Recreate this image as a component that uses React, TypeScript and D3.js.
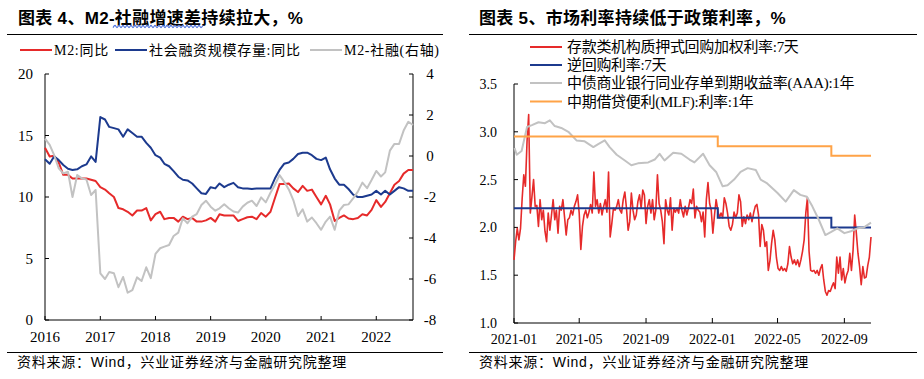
import React from "react";
import * as d3 from "d3";

// ---------- Left chart: monthly, 2016-01 .. 2022-09 ----------
const leftStartMonth = "2016-01-01";
const m2Yoy = [
  14.0, 13.3, 13.35, 12.8, 11.8, 11.8, 11.5, 11.5, 11.5, 11.5, 11.4, 11.3,
  10.8, 10.6, 10.3, 10.0, 9.1, 9.0, 8.8, 8.5, 8.9, 8.9, 9.1, 8.1,
  8.6, 8.8, 8.2, 8.3, 8.3, 8.0, 8.4, 8.2, 8.3, 8.0, 8.0, 8.1,
  8.3, 8.0, 8.6, 8.5, 8.5, 8.5, 8.05, 8.2, 8.35, 8.4, 8.2, 8.7,
  8.4, 8.8, 9.9, 11.05, 11.05, 11.1, 10.7, 10.4, 10.9, 10.5, 10.6, 10.0,
  9.4, 10.1, 9.4, 8.05, 8.3, 8.5, 8.25, 8.2, 8.3, 8.6, 8.5, 8.95,
  9.75, 9.2, 9.6, 10.3, 11.0, 11.3, 11.9, 12.2, 12.2,
];
const tsfYoy = [
  13.07, 12.7, 13.3, 13.0, 12.6, 12.3, 12.2, 12.25, 12.5, 12.65, 13.3, 12.85,
  16.5, 16.3, 15.7, 15.6, 15.5, 14.9, 15.5, 15.2, 14.9, 14.9, 14.4, 14.0,
  13.4, 13.2, 12.7, 12.5, 12.1, 11.65, 11.4, 11.35, 11.1, 10.7, 10.3, 10.25,
  10.8, 10.7, 11.1, 10.8, 11.0, 11.15, 10.8, 10.7, 10.7, 10.65, 10.7, 10.7,
  10.7, 10.7, 11.5, 12.2, 12.7, 12.8, 13.1, 13.5, 13.6, 13.6, 13.4, 13.1,
  13.0, 13.2, 12.25, 11.5, 11.0, 11.0, 10.65, 10.2, 10.0, 10.0, 10.1, 10.2,
  10.5, 10.2, 10.5, 10.2, 10.5, 10.8, 10.7, 10.5, 10.5,
];
const m2MinusTsf = [
  0.85, 0.54, 0.05, -0.6, -0.85, -0.77, -2.0, -0.93, -1.09, -1.15, -1.9, -1.66,
  -5.72, -6.0, -5.66, -5.72, -6.4, -5.9, -6.67, -6.54, -5.92, -6.1, -5.43, -5.96,
  -4.78, -4.5, -4.42, -4.34, -3.9, -3.74, -3.04, -3.28, -2.96, -2.83, -2.39, -2.18,
  -2.47, -2.67, -2.55, -2.35, -2.55, -2.71, -2.76, -2.47, -2.28, -2.18, -2.44, -2.02,
  -2.26, -1.79, -1.41, -0.93, -1.25, -1.63, -2.15, -2.93, -2.6, -3.2, -3.0, -3.28,
  -3.6, -3.2, -2.96, -3.6, -2.67, -2.39, -2.36, -2.07, -1.74, -1.3, -1.57, -1.17,
  -0.73, -1.0, -0.8, 0.26, 0.59, 0.59, 1.24, 1.67, 1.51,
];
const leftYears = ["2016", "2017", "2018", "2019", "2020", "2021", "2022"];
const leftYTicks = [0, 5, 10, 15, 20];
const leftY2Ticks = [-8, -6, -4, -2, 0, 2, 4];

// ---------- Right chart: daily rates, sampled every 3 days ----------
const dr007Start = "2021-01-01";
const dr007StepDays = 3;
const dr007 = [
  1.66, 1.85, 1.99, 1.87, 1.99, 2.3, 2.55, 2.43, 2.9, 3.18,
  2.15, 2.32, 2.5, 2.22, 2.23, 2.01, 2.29, 2.08, 2.18, 1.96,
  1.85, 2.15, 1.97, 2.13, 2.29, 2.08, 2.18, 1.94, 2.22, 2.18,
  2.29, 2.11, 1.92, 2.08, 2.1, 2.18, 2.13, 2.22, 2.27, 2.34,
  2.15, 1.77, 2.01, 2.13, 2.18, 2.1, 2.16, 2.24, 2.15, 2.58,
  2.22, 2.29, 2.15, 2.25, 2.13, 2.22, 2.29, 2.16, 2.58, 1.9,
  2.04, 2.2, 2.18, 2.22, 2.29, 2.18, 2.15, 2.29, 2.37, 2.2,
  1.97, 2.06, 2.36, 2.18, 2.08, 2.13, 2.27, 2.34, 2.2, 2.39,
  2.34, 2.04, 2.22, 2.29, 2.15, 2.29, 2.08, 2.18, 2.55, 2.25,
  2.18, 2.06, 1.83, 2.29, 2.18, 2.13, 2.31, 1.97, 2.2, 2.16,
  2.2, 2.15, 2.29, 2.18, 2.11, 2.22, 2.13, 2.2, 2.29, 2.25,
  2.4, 2.1, 2.22, 2.18, 2.16, 2.06, 2.16, 1.9, 2.29, 2.47,
  2.25, 2.18, 1.94, 2.13, 2.29, 2.18, 2.1, 2.15, 2.1, 2.31,
  2.25, 2.15, 2.01, 1.97, 2.03, 2.16, 2.1, 2.15, 2.34, 2.27,
  2.01, 2.11, 2.04, 2.13, 2.08, 2.15, 2.06, 2.15, 2.22, 2.24,
  2.13, 1.8, 2.03, 1.97, 1.8, 1.85, 1.55, 1.65, 1.83, 1.97,
  1.87, 1.68, 1.57, 1.55, 1.59, 1.55, 1.57, 1.54, 1.62, 1.8,
  1.69, 1.62, 1.66, 1.61, 1.66, 1.59, 1.66, 1.75, 1.87, 2.15,
  2.31, 1.75, 1.55, 1.54, 1.55, 1.52, 1.55, 1.5, 1.57, 1.61,
  1.45, 1.33, 1.29, 1.34, 1.33, 1.38, 1.42, 1.36, 1.69, 1.52,
  1.69, 1.45, 1.57, 1.42, 1.5, 1.55, 1.73, 1.55, 1.76, 2.13,
  1.94, 1.73, 1.59, 1.4, 1.59, 1.47, 1.48, 1.6, 1.69, 1.9,
];
const ncdDates = [
  "2021-01-02", "2021-01-06", "2021-01-15", "2021-01-25", "2021-02-03", "2021-02-15", "2021-02-27",
  "2021-03-08", "2021-03-17", "2021-03-29", "2021-04-11", "2021-04-26", "2021-05-11", "2021-05-27",
  "2021-06-05", "2021-06-17", "2021-06-26", "2021-07-09", "2021-07-24", "2021-08-05", "2021-08-17",
  "2021-09-05", "2021-09-17", "2021-09-26", "2021-10-05", "2021-10-21", "2021-11-05", "2021-11-20",
  "2021-11-29", "2021-12-15", "2021-12-27", "2022-01-08", "2022-01-20", "2022-01-29", "2022-02-10",
  "2022-02-22", "2022-03-07", "2022-03-22", "2022-03-31", "2022-04-12", "2022-05-01", "2022-05-16",
  "2022-05-31", "2022-06-12", "2022-06-24", "2022-07-04", "2022-07-16", "2022-07-28", "2022-08-07",
  "2022-08-19", "2022-09-01", "2022-09-13", "2022-09-25", "2022-10-07", "2022-10-20",
];
const ncdValues = [
  2.83, 2.76, 2.8, 3.05, 3.07, 3.1, 3.09,
  3.12, 3.06, 3.04, 3.0, 2.91, 2.9, 2.84,
  2.87, 2.91, 2.84, 2.76, 2.7, 2.65, 2.67,
  2.68, 2.71, 2.77, 2.7, 2.78, 2.77, 2.71,
  2.68, 2.77, 2.65, 2.58, 2.43, 2.44, 2.5,
  2.58, 2.62, 2.6, 2.5, 2.46, 2.36, 2.27,
  2.39, 2.34, 2.32, 2.22, 2.08, 1.92, 1.95,
  1.99, 1.94, 1.96, 1.99, 2.0, 2.05,
];
const policyDates = ["2021-01-01", "2022-01-11", "2022-08-08", "2022-10-20"];
const repoValues = [2.2, 2.1, 2.0, 2.0];
const mlfValues = [2.95, 2.85, 2.75, 2.75];
const rightYTicks = [1.0, 1.5, 2.0, 2.5, 3.0, 3.5];

const SERIF = "'Liberation Serif','Times New Roman','Noto Sans CJK SC',serif";
const SANS = "'Liberation Sans',Arial,'Noto Sans CJK SC',sans-serif";
const RED = "#e62a2a";
const BLUE = "#1c3a8e";
const GREY = "#c2c2c2";
const ORANGE = "#ffa347";

const parse = (s: string) => new Date(s + "T00:00:00Z");

export default function App() {
  // left scales
  const start = parse(leftStartMonth);
  const months = m2Yoy.map((_, i) => d3.utcMonth.offset(start, i));
  const xL = d3.scaleUtc().domain([months[0], months[months.length - 1]]).range([45, 413]);
  const yL = d3.scaleLinear().domain([0, 20]).range([320, 74]);
  const yL2 = d3.scaleLinear().domain([-8, 4]).range([320, 74]);
  const lineL = d3.line<number>().x((_, i) => xL(months[i])).y((v) => yL(v));
  const lineL2 = d3.line<number>().x((_, i) => xL(months[i])).y((v) => yL2(v));

  // right scales
  const xR = d3.scaleUtc().domain([parse("2021-01-01"), parse("2022-10-20")]).range([514, 871]);
  const yR = d3.scaleLinear().domain([1, 3.5]).range([323, 84]);
  const drStart = parse(dr007Start);
  const drDates = dr007.map((_, i) => d3.utcDay.offset(drStart, i * dr007StepDays));
  const lineDr = d3.line<number>().x((_, i) => xR(drDates[i])).y((v) => yR(v));
  const lineNcd = d3.line<number>().x((_, i) => xR(parse(ncdDates[i]))).y((v) => yR(v));
  const stepLine = d3
    .line<number>()
    .x((_, i) => xR(parse(policyDates[i])))
    .y((v) => yR(v))
    .curve(d3.curveStepAfter);
  const rightXTicks = d3.utcMonth.every(4)!.range(parse("2021-01-01"), parse("2022-10-02"));
  const fmtMonth = d3.utcFormat("%Y-%m");

  // spell-check squiggle under part of the left title
  const squiggle: [number, number][] = d3.range(113, 204, 2).map((x, i) => [x, i % 2 ? 25.4 : 27.6]);
  const squigglePath = d3.line().curve(d3.curveCardinal)(squiggle) || "";

  const legendL = [
    { x: 20, color: RED, label: "M2:同比" },
    { x: 115, color: BLUE, label: "社会融资规模存量:同比" },
    { x: 310, color: GREY, label: "M2-社融(右轴)" },
  ];
  const legendR = [
    { y: 47, color: RED, label: "存款类机构质押式回购加权利率:7天" },
    { y: 65, color: BLUE, label: "逆回购利率:7天" },
    { y: 83, color: GREY, label: "中债商业银行同业存单到期收益率(AAA):1年" },
    { y: 101.5, color: ORANGE, label: "中期借贷便利(MLF):利率:1年" },
  ];

  return (
    <svg
      width={924}
      height={379}
      style={{ position: "fixed", left: 0, top: 0, background: "#fff" }}
    >
      <rect width={924} height={379} fill="#fff" />

      {/* ---------------- LEFT PANEL ---------------- */}
      <text x={18} y={24} fontFamily={SANS} fontWeight="bold" fontSize={17} letterSpacing={0.3} fill="#000">
        图表 4、M2-社融增速差持续拉大，%
      </text>
      <path d={squigglePath} fill="none" stroke="#4f74dc" strokeWidth={1.1} />
      <line x1={7} x2={443} y1={34.5} y2={34.5} stroke="#000" strokeWidth={1} />

      {legendL.map((l) => (
        <g key={l.label}>
          <line x1={l.x} x2={l.x + 32} y1={50} y2={50} stroke={l.color} strokeWidth={2} />
          <text x={l.x + 34} y={55} fontFamily={SERIF} fontSize={14} letterSpacing={0.7} fill="#000">
            {l.label}
          </text>
        </g>
      ))}

      {/* axes */}
      <line x1={45} x2={45} y1={74} y2={320} stroke="#000" />
      <line x1={413} x2={413} y1={74} y2={320} stroke="#000" />
      <line x1={45} x2={413} y1={320} y2={320} stroke="#000" />
      {leftYTicks.map((t) => (
        <g key={"ly" + t}>
          <line x1={45} x2={49} y1={yL(t)} y2={yL(t)} stroke="#000" />
          <text x={33} y={yL(t) + 5} textAnchor="end" fontFamily={SERIF} fontSize={15} fill="#000">
            {t}
          </text>
        </g>
      ))}
      {leftY2Ticks.map((t) => (
        <g key={"ly2" + t}>
          <line x1={409} x2={413} y1={yL2(t)} y2={yL2(t)} stroke="#000" />
          <text x={430} y={yL2(t) + 5} textAnchor="middle" fontFamily={SERIF} fontSize={15} fill="#000">
            {t}
          </text>
        </g>
      ))}
      {leftYears.map((yr) => {
        const x = xL(parse(yr + "-01-01"));
        return (
          <g key={yr}>
            <line x1={x} x2={x} y1={316} y2={320} stroke="#000" />
            <text x={x} y={342} textAnchor="middle" fontFamily={SERIF} fontSize={15} fill="#000">
              {yr}
            </text>
          </g>
        );
      })}

      <path d={lineL(m2Yoy) || ""} fill="none" stroke={RED} strokeWidth={2} strokeLinejoin="round" />
      <path d={lineL(tsfYoy) || ""} fill="none" stroke={BLUE} strokeWidth={2} strokeLinejoin="round" />
      <path d={lineL2(m2MinusTsf) || ""} fill="none" stroke={GREY} strokeWidth={2} strokeLinejoin="round" />

      <line x1={7} x2={443} y1={352.5} y2={352.5} stroke="#000" strokeWidth={1} />
      <text x={17} y={367} fontFamily={SANS} fontSize={14} letterSpacing={0.75} fill="#000">
        资料来源：Wind，兴业证券经济与金融研究院整理
      </text>

      {/* ---------------- RIGHT PANEL ---------------- */}
      <text x={479} y={24} fontFamily={SANS} fontWeight="bold" fontSize={17} letterSpacing={0.3} fill="#000">
        图表 5、市场利率持续低于政策利率，%
      </text>
      <line x1={469} x2={917} y1={34.5} y2={34.5} stroke="#000" strokeWidth={1} />

      {legendR.map((l) => (
        <g key={l.label}>
          <line x1={530} x2={562} y1={l.y} y2={l.y} stroke={l.color} strokeWidth={2} />
          <text x={567} y={l.y + 5} fontFamily={SERIF} fontSize={15} letterSpacing={-0.3} fill="#000">
            {l.label}
          </text>
        </g>
      ))}

      <line x1={514} x2={514} y1={84} y2={323} stroke="#000" />
      <line x1={514} x2={871} y1={323} y2={323} stroke="#000" />
      {rightYTicks.map((t) => (
        <g key={"ry" + t}>
          <line x1={514} x2={518} y1={yR(t)} y2={yR(t)} stroke="#000" />
          <text x={497} y={yR(t) + 5} textAnchor="end" fontFamily={SERIF} fontSize={14} fill="#000">
            {t.toFixed(1)}
          </text>
        </g>
      ))}
      {rightXTicks.map((d) => (
        <g key={d.toISOString()}>
          <line x1={xR(d)} x2={xR(d)} y1={318} y2={323} stroke="#000" />
          <text x={xR(d)} y={344} textAnchor="middle" fontFamily={SERIF} fontSize={14} fill="#000">
            {fmtMonth(d)}
          </text>
        </g>
      ))}

      <path d={lineDr(dr007) || ""} fill="none" stroke={RED} strokeWidth={1.6} strokeLinejoin="round" />
      <path d={stepLine(repoValues) || ""} fill="none" stroke={BLUE} strokeWidth={2} />
      <path d={lineNcd(ncdValues) || ""} fill="none" stroke={GREY} strokeWidth={2} strokeLinejoin="round" />
      <path d={stepLine(mlfValues) || ""} fill="none" stroke={ORANGE} strokeWidth={2} />

      <line x1={469} x2={917} y1={352.5} y2={352.5} stroke="#000" strokeWidth={1} />
      <text x={479} y={367} fontFamily={SANS} fontSize={14} letterSpacing={0.75} fill="#000">
        资料来源：Wind，兴业证券经济与金融研究院整理
      </text>
    </svg>
  );
}
